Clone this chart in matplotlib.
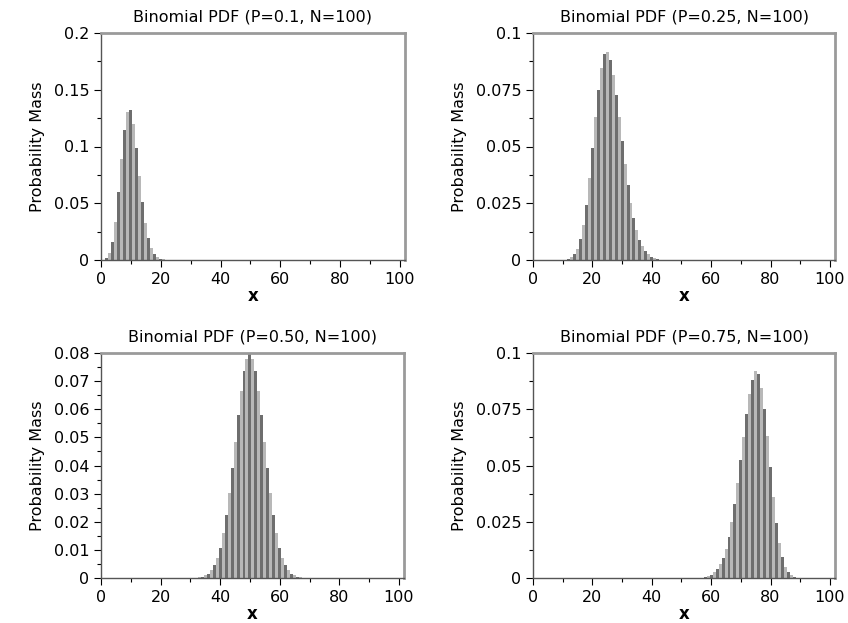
import numpy as np
import matplotlib
matplotlib.use("Agg")
import matplotlib.pyplot as plt
from matplotlib.ticker import MultipleLocator

# values (probability mass per x)
x1 = list(range(0, 23))
p1 = [0.0000, 0.0003, 0.0016, 0.0059, 0.0159, 0.0339, 0.0596, 0.0889, 0.1148,
      0.1304, 0.1319, 0.1199, 0.0988, 0.0743, 0.0513, 0.0327, 0.0193, 0.0106,
      0.0054, 0.0026, 0.0012, 0.0005, 0.0002]

x2 = list(range(10, 43))
p2 = [0.0001, 0.0002, 0.0005, 0.0012, 0.0025, 0.0050, 0.0092, 0.0156, 0.0244,
      0.0360, 0.0493, 0.0630, 0.0751, 0.0846, 0.0906, 0.0918, 0.0881, 0.0816,
      0.0728, 0.0628, 0.0523, 0.0422, 0.0330, 0.0250, 0.0184, 0.0131, 0.0090,
      0.0061, 0.0039, 0.0025, 0.0015, 0.0009, 0.0005]

x3 = list(range(33, 68))
p3 = [0.0002, 0.0005, 0.0009, 0.0016, 0.0027, 0.0045, 0.0071, 0.0108, 0.0159,
      0.0223, 0.0301, 0.0390, 0.0485, 0.0580, 0.0666, 0.0735, 0.0780, 0.0796,
      0.0780, 0.0735, 0.0666, 0.0580, 0.0485, 0.0390, 0.0301, 0.0223, 0.0159,
      0.0108, 0.0071, 0.0045, 0.0027, 0.0016, 0.0009, 0.0005, 0.0002]

x4 = list(range(58, 91))
p4 = [0.0005, 0.0009, 0.0015, 0.0025, 0.0039, 0.0061, 0.0090, 0.0131, 0.0184,
      0.0250, 0.0330, 0.0422, 0.0523, 0.0628, 0.0728, 0.0816, 0.0881, 0.0918,
      0.0906, 0.0846, 0.0751, 0.0630, 0.0493, 0.0360, 0.0244, 0.0156, 0.0092,
      0.0050, 0.0025, 0.0012, 0.0005, 0.0002, 0.0001]

titles = ["Binomial PDF (P=0.1, N=100)", "Binomial PDF (P=0.25, N=100)",
          "Binomial PDF (P=0.50, N=100)", "Binomial PDF (P=0.75, N=100)"]
ymax = [0.2, 0.1, 0.08, 0.1]
ymajor = [0.05, 0.025, 0.01, 0.025]
yminor = [0.025, 0.0125, 0.005, 0.0125]
yfmt = ["%.2f", "%.3f", "%.2f", "%.3f"]

dark = "#6e6e6e"
light = "#b8b8b8"

fig = plt.figure(figsize=(8.48, 6.23), dpi=100)
W, H = 848, 623
boxes = [(101, 33, 405, 260), (533, 33, 835, 260),
         (101, 353, 404, 578), (533, 353, 835, 578)]

def fmt(v, f):
    if v == 0:
        return "0"
    s = (f % v).rstrip("0")
    return s

for i, (xs, ps) in enumerate([(x1, p1), (x2, p2), (x3, p3), (x4, p4)]):
    l, t, r, b = boxes[i]
    ax = fig.add_axes([l / W, 1 - b / H, (r - l) / W, (b - t) / H])
    cols = [dark if k % 2 == 0 else light for k in xs]
    ax.bar(xs, ps, width=1.0, color=cols, linewidth=0)
    ax.set_xlim(0, 101.7)
    ax.set_ylim(0, ymax[i])
    ax.xaxis.set_major_locator(MultipleLocator(20))
    ax.xaxis.set_minor_locator(MultipleLocator(10))
    ax.yaxis.set_major_locator(MultipleLocator(ymajor[i]))
    ax.yaxis.set_minor_locator(MultipleLocator(yminor[i]))
    yt = np.arange(0, ymax[i] + 1e-9, ymajor[i])
    ax.set_yticks(yt)
    ax.set_yticklabels([fmt(v, yfmt[i]) for v in yt])
    ax.tick_params(direction="out", length=5, width=0.8, labelsize=11.5)
    ax.tick_params(which="minor", direction="out", length=3, width=0.8)
    for s in ["top", "right"]:
        ax.spines[s].set_color("#9a9a9a")
        ax.spines[s].set_linewidth(2)
    for s in ["left", "bottom"]:
        ax.spines[s].set_color("#555555")
        ax.spines[s].set_linewidth(1)
    ax.set_title(titles[i], fontsize=11.5, pad=8)
    ax.set_ylabel("Probability Mass", fontsize=11.5, labelpad=6)
    ax.set_xlabel("x", fontsize=12, fontweight="bold", labelpad=0)

fig.savefig("out.png", dpi=100)
